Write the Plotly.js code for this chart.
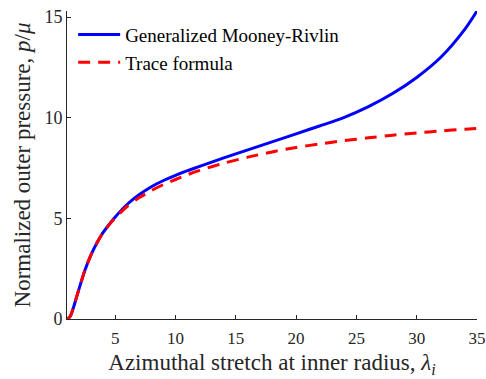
<!DOCTYPE html>
<html>
<head>
<meta charset="utf-8">
<script src="https://cdn.plot.ly/plotly-3.0.1.min.js"></script>
<style>html,body{margin:0;padding:0;background:#fff;}#chart{width:486px;height:379px;}</style>
</head>
<body>
<div id="chart"></div>
<script>
const stretch = [1, 1.25, 1.5, 1.75, 2, 2.5, 3, 3.5, 4, 4.5, 5, 6, 7, 8, 9, 10, 11, 12, 14, 16, 18, 20, 22, 24, 26, 28, 30, 32, 34, 35];
const mooneyRivlin = [0, 0.12, 0.5, 1.0, 1.5, 2.45, 3.2, 3.8, 4.3, 4.7, 5.07, 5.7, 6.18, 6.57, 6.88, 7.14, 7.37, 7.58, 8.0, 8.4, 8.8, 9.2, 9.6, 10.02, 10.55, 11.2, 12.0, 13.0, 14.4, 15.3];
const traceFormula = [0, 0.12, 0.5, 1.0, 1.5, 2.45, 3.2, 3.8, 4.3, 4.69, 5.03, 5.6, 6.03, 6.38, 6.68, 6.93, 7.17, 7.38, 7.74, 8.04, 8.3, 8.52, 8.7, 8.86, 9.0, 9.13, 9.24, 9.34, 9.43, 9.47];
const xTicks = [5, 10, 15, 20, 25, 30, 35];
const yTicks = [0, 5, 10, 15];

const font = "'Liberation Serif', 'DejaVu Serif', serif";
const data = [
  {x: stretch, y: mooneyRivlin, mode: 'lines', name: 'Generalized Mooney-Rivlin',
   line: {color: '#0000ff', width: 3, shape: 'spline', smoothing: 0.8}},
  {x: stretch, y: traceFormula, mode: 'lines', name: 'Trace formula',
   line: {color: '#ff0000', width: 3, dash: '12px,8px', shape: 'spline', smoothing: 0.8}}
];
const layout = {
  width: 486, height: 379,
  margin: {l: 67, r: 9, t: 11, b: 60},
  paper_bgcolor: '#fff', plot_bgcolor: '#fff',
  font: {family: font, size: 18, color: '#262626'},
  showlegend: true,
  legend: {x: 0.015, y: 0.985, xanchor: 'left', yanchor: 'top', bgcolor: 'rgba(0,0,0,0)',
           itemwidth: 42,
           font: {family: font, size: 19, color: '#000'}, tracegroupgap: 0},
  xaxis: {range: [1, 35], tickvals: xTicks, ticks: 'inside', ticklen: 4, tickcolor: '#262626',
          showline: true, linecolor: '#262626', linewidth: 1, showgrid: false, zeroline: false,
          ticklabeloverflow: 'allow', ticklabelstandoff: 4,
          tickfont: {family: font, size: 17},
          title: {text: 'Azimuthal stretch at inner radius, <i>λ</i><sub><i>i</i></sub>', font: {family: font, size: 23, color: '#262626'}, standoff: 6}},
  yaxis: {range: [0, 15.3], tickvals: yTicks, ticks: 'inside', ticklen: 4, tickcolor: '#262626',
          showline: true, linecolor: '#262626', linewidth: 1, showgrid: false, zeroline: false,
          tickfont: {family: font, size: 18},
          title: {text: 'Normalized outer pressure, <i>p</i>/<i>μ</i>', font: {family: font, size: 23, color: '#262626'}, standoff: 7}}
};
Plotly.newPlot('chart', data, layout, {displayModeBar: false, staticPlot: true});
</script>
</body>
</html>
